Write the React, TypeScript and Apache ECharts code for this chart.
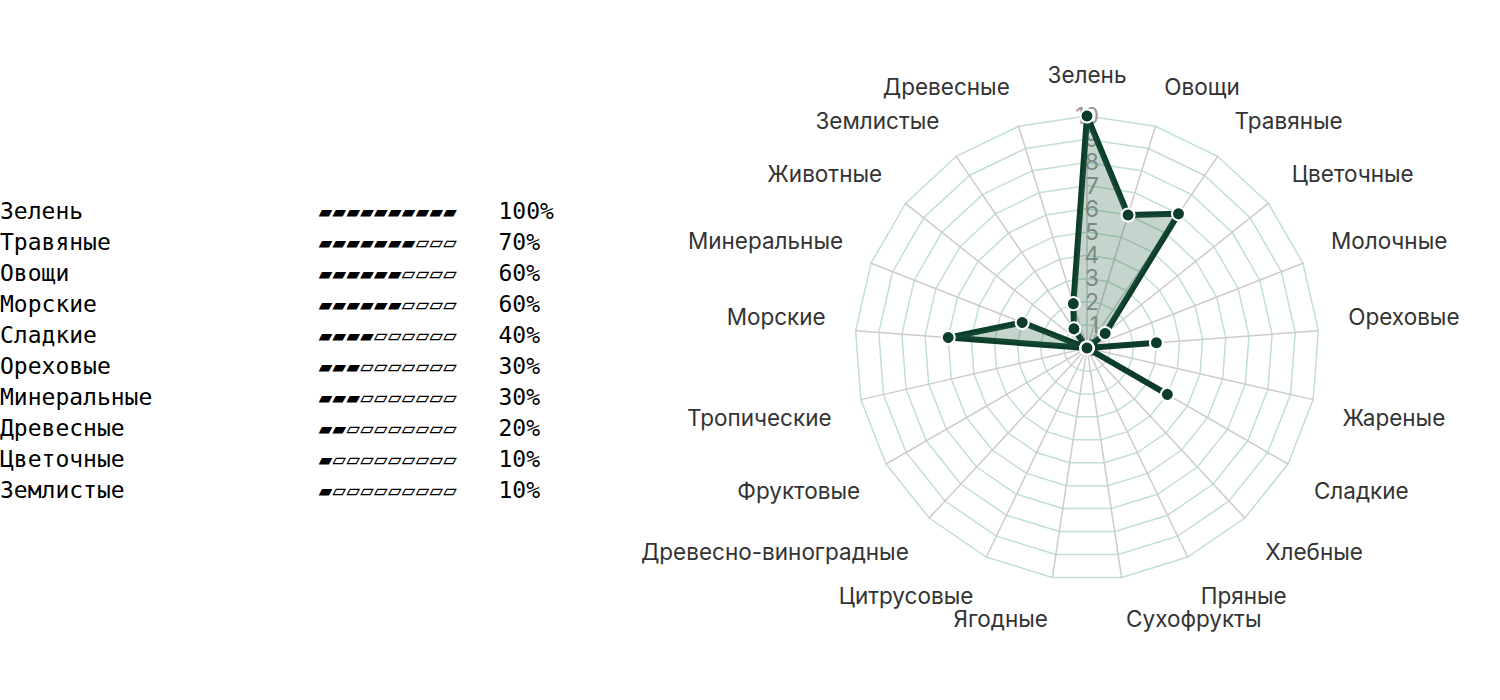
import { useEffect, useRef } from "react";
import * as echarts from "echarts";

// indicators, clockwise from the top
const aromas = [
  "Зелень", "Овощи", "Травяные", "Цветочные", "Молочные", "Ореховые", "Жареные",
  "Сладкие", "Хлебные", "Пряные", "Сухофрукты", "Ягодные", "Цитрусовые",
  "Древесно-виноградные", "Фруктовые", "Тропические", "Морские", "Минеральные",
  "Животные", "Землистые", "Древесные",
];
const scores = [10, 6, 7, 1, 0, 3, 0, 4, 0, 0, 0, 0, 0, 0, 0, 0, 6, 3, 0, 1, 2];
const maxScore = 10;

const App = () => {
  const chartRef = useRef<HTMLDivElement>(null);

  useEffect(() => {
    if (!chartRef.current) return;
    const chart = echarts.init(chartRef.current, undefined, { renderer: "svg" });

    // radar lays axes out counter-clockwise, so keep the first and reverse the rest
    const order = [0, ...aromas.map((_, i) => i).slice(1).reverse()];
    const n = aromas.length;

    // text list on the left: non-zero scores, highest first
    const rows = aromas
      .map((name, i) => ({ name, v: scores[i] }))
      .filter((r) => r.v > 0)
      .sort((a, b) => b.v - a.v)
      .map((r) => r.name.padEnd(23) + "▰".repeat(r.v) + "▱".repeat(maxScore - r.v) + "   " + r.v * 10 + "%");

    const options = {
      animation: false,
      backgroundColor: "#fff",
      graphic: [
        {
          type: "text",
          left: 0,
          top: 195,
          style: {
            text: rows.join("\n"),
            font: '23px "DejaVu Sans Mono"',
            lineHeight: 31,
            fill: "#000",
          },
        },
      ],
      radar: {
        center: [1087, 348],
        radius: 232,
        splitNumber: 10,
        nameGap: 30,
        axisName: { color: "#333", fontSize: 22.5, fontFamily: "Inter" },
        axisLine: { lineStyle: { color: "#ccc", width: 1.5 } },
        splitLine: { lineStyle: { color: "#c2dfd2", width: 1.5 } },
        splitArea: { show: false },
        indicator: order.map((i) => {
          // names above the centre sit on their anchor, names below hang from it
          const upper = Math.cos((i * 2 * Math.PI) / n) > 0;
          return {
            name: aromas[i],
            max: maxScore,
            min: 0,
            nameTextStyle: { verticalAlign: upper ? "bottom" : "top" },
            ...(i === 0
              ? {
                  axisLabel: {
                    show: true,
                    color: "#999",
                    fontSize: 23,
                    fontFamily: "Inter",
                    margin: -12,
                  },
                }
              : {}),
          };
        }),
      },
      series: [
        {
          type: "radar",
          symbol: "circle",
          symbolSize: 13,
          lineStyle: { color: "#0b3d2a", width: 6 },
          itemStyle: { color: "#0b3d2a", borderColor: "#fff", borderWidth: 2 },
          areaStyle: { color: "rgba(40, 100, 70, 0.27)", opacity: 1 },
          data: [{ value: order.map((i) => scores[i]), name: "Профиль" }],
        },
      ],
    };

    chart.setOption(options);
    return () => chart.dispose();
  }, []);

  return (
    <div
      ref={chartRef}
      style={{ position: "absolute", left: 0, top: 0, width: 1500, height: 700 }}
    />
  );
};

export default App;
